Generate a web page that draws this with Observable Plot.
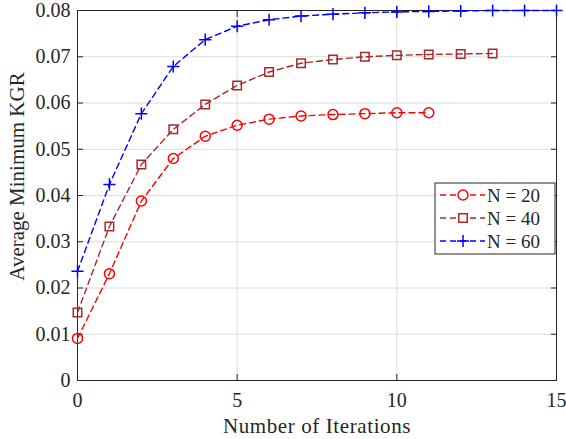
<!DOCTYPE html>
<html><head><meta charset="utf-8">
<script src="https://cdn.jsdelivr.net/npm/d3@7"></script>
<script src="https://cdn.jsdelivr.net/npm/@observablehq/plot@0.6"></script>
<style>body{margin:0;background:#fff}</style>
</head><body><div id="chart"></div>
<script>
const seriesNames = ["N = 20", "N = 40", "N = 60"];
const seriesColors = ["#ff0000", "#a52a2a", "#0000ff"];
const seriesSymbols = ["circle", "square2", "plus"];
const kgrN20 = [0.0091, 0.0231, 0.0388, 0.0480, 0.0528, 0.0552, 0.0565, 0.0572, 0.0575, 0.0577, 0.0579, 0.0579];
const kgrN40 = [0.0147, 0.0333, 0.0467, 0.0543, 0.0597, 0.0638, 0.0667, 0.0686, 0.0694, 0.0700, 0.0703, 0.0705, 0.0706, 0.0707];
const kgrN60 = [0.0236, 0.0424, 0.0577, 0.0679, 0.0737, 0.0766, 0.0780, 0.0788, 0.0792, 0.0795, 0.0797, 0.0798, 0.0799, 0.0800, 0.0800, 0.0800];
const xTicks = [0, 5, 10, 15];
const yTicks = [0, 0.01, 0.02, 0.03, 0.04, 0.05, 0.06, 0.07, 0.08];
const xLabel = "Number of Iterations";
const yLabel = "Average Minimum KGR";

const seriesValues = [kgrN20, kgrN40, kgrN60];
const data = seriesValues.flatMap((vals, i) => vals.map((v, k) => ({series: seriesNames[i], iter: k, kgr: v})));

const fmtY = d => d === 0 ? "0" : d.toFixed(2);
const axisColor = "#262626";
const serif = "Liberation Serif, Times New Roman, serif";
const markerR = [5, 5.4, 4];

const plot = Plot.plot({
  width: 566,
  height: 439,
  marginLeft: 77,
  marginRight: 10,
  marginTop: 10,
  marginBottom: 59,
  x: {domain: [0, 15]},
  y: {domain: [0, 0.08]},
  color: {domain: seriesNames, range: seriesColors},
  symbol: {domain: seriesNames, range: seriesSymbols},
  marks: [
    Plot.gridX(xTicks, {stroke: "#dcdcdc", strokeOpacity: 1}),
    Plot.gridY(yTicks, {stroke: "#dcdcdc", strokeOpacity: 1}),
    Plot.frame({stroke: axisColor, strokeWidth: 1}),
    Plot.axisX(xTicks, {anchor: "bottom", tickSize: -6, tickPadding: 18, tickFormat: d => String(d), label: null, fontSize: 20, fontFamily: serif, fontVariant: "normal", fill: axisColor, stroke: axisColor}),
    Plot.axisX(xTicks, {anchor: "top", tickSize: -6, label: null, text: null, stroke: axisColor}),
    Plot.axisY(yTicks, {anchor: "left", tickSize: -6, tickPadding: 13, tickFormat: fmtY, label: null, fontSize: 20, fontFamily: serif, fontVariant: "normal", fill: axisColor, stroke: axisColor}),
    Plot.axisY(yTicks, {anchor: "right", tickSize: -6, label: null, text: null, stroke: axisColor}),
    Plot.text([xLabel], {frameAnchor: "bottom", textAnchor: "middle", dy: 46, fontSize: 21, fontFamily: serif, fill: axisColor, lineAnchor: "middle"}),
    Plot.text([yLabel], {frameAnchor: "left", textAnchor: "middle", rotate: -90, dx: -60, dy: -19, fontSize: 21, fontFamily: serif, fill: axisColor, lineAnchor: "middle"}),
    Plot.line(data, {x: "iter", y: "kgr", z: "series", stroke: "series", strokeWidth: 1.4, strokeDasharray: "6,4"}),
    ...seriesNames.map((name, i) => Plot.dot(data, {filter: d => d.series === name, x: "iter", y: "kgr", stroke: "series", symbol: "series", r: markerR[i], strokeWidth: 1.5, fill: "none"}))
  ]
});

document.getElementById("chart").appendChild(plot);
const svg = d3.select(plot);

// legend box
const color = plot.scale("color");
const symFns = {circle: d3.symbolCircle, square2: d3.symbolSquare2, plus: d3.symbolPlus};
const lg = svg.append("g").attr("transform", "translate(435,183)");
lg.append("rect").attr("width", 120).attr("height", 71).attr("fill", "#fff").attr("stroke", axisColor).attr("stroke-width", 1);
seriesNames.forEach((name, i) => {
  const yy = 12 + i * 23;
  const c = color.apply(name);
  lg.append("line").attr("x1", 5).attr("x2", 50).attr("y1", yy).attr("y2", yy)
    .attr("stroke", c).attr("stroke-width", 1.4).attr("stroke-dasharray", "6,4");
  const sym = d3.symbol(symFns[seriesSymbols[i]], Math.PI * markerR[i] * markerR[i])();
  lg.append("path").attr("d", sym).attr("transform", `translate(28,${yy})`)
    .attr("fill", "#fff").attr("stroke", c).attr("stroke-width", 1.5);
  lg.append("text").attr("x", 52).attr("y", yy).attr("dy", "0.35em")
    .attr("text-anchor", "start").attr("font-size", 19).attr("fill", axisColor).text(name);
});
svg.selectAll("g").style("font-variant", "normal");
svg.selectAll("text").style("font-family", serif, "important").style("font-variant", "normal");
svg.selectAll("text").filter(function() { return this.textContent === xLabel; }).style("letter-spacing", "0.6px");
</script>
</body></html>
